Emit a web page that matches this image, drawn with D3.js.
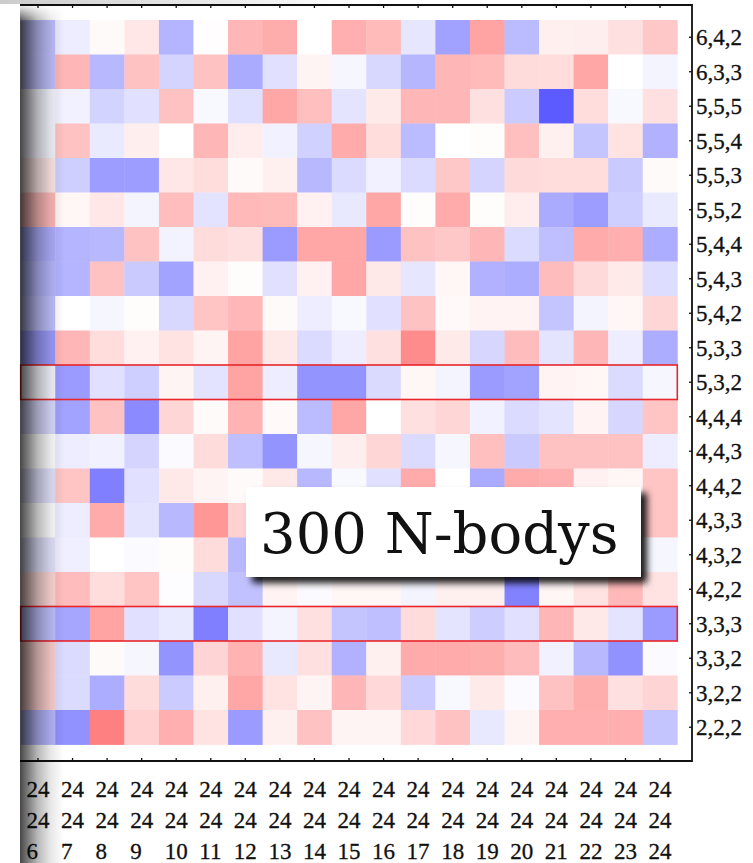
<!DOCTYPE html>
<html>
<head>
<meta charset="utf-8">
<script src="https://cdn.jsdelivr.net/npm/d3@7"></script>
<style>
  body { margin: 0; background: #ffffff; }
  svg { display: block; }
</style>
</head>
<body>
<svg id="chart" width="753" height="863"></svg>
<script>
// Problem shapes (rows) and the third grid dimension of the 24x24xN runs (columns)
const rowLabels = ["6,4,2", "6,3,3", "5,5,5", "5,5,4", "5,5,3", "5,5,2", "5,4,4", "5,4,3",
  "5,4,2", "5,3,3", "5,3,2", "4,4,4", "4,4,3", "4,4,2", "4,3,3", "4,3,2", "4,2,2",
  "3,3,3", "3,3,2", "3,2,2", "2,2,2"];
const gridN = [6, 7, 8, 9, 10, 11, 12, 13, 14, 15, 16, 17, 18, 19, 20, 21, 22, 23, 24];
const gridFixed = ["24", "24"];
const highlightedRows = ["5,3,2", "3,3,3"];
const annotationText = "300 N-bodys";

// Relative deviation per (shape, N): negative = blue, positive = red. null = not shown.
const scores = [
  [-0.35, -0.10, 0.03, 0.16, -0.42, 0.01, 0.48, 0.54, 0.00, 0.52, 0.45, -0.14, -0.53, 0.60, -0.38, 0.10, 0.11, 0.20, 0.36],
  [-0.35, 0.48, -0.40, 0.40, -0.24, 0.40, -0.48, -0.17, 0.07, -0.05, -0.22, -0.41, 0.48, 0.45, 0.23, 0.22, 0.58, 0.00, -0.06],
  [-0.05, -0.08, -0.25, -0.17, 0.40, -0.04, -0.18, 0.58, 0.42, -0.15, 0.14, 0.48, 0.48, 0.20, -0.29, -0.92, 0.22, -0.04, 0.20],
  [-0.05, 0.40, -0.12, 0.11, 0.00, 0.48, 0.12, -0.08, -0.26, 0.55, 0.22, -0.38, 0.00, 0.02, 0.42, 0.10, -0.33, 0.18, -0.44],
  [0.15, -0.27, -0.55, -0.55, 0.16, 0.22, 0.03, 0.10, -0.40, -0.20, -0.08, -0.20, 0.36, -0.24, 0.24, 0.22, 0.22, -0.30, 0.03],
  [0.45, 0.06, 0.16, -0.06, 0.43, -0.16, 0.46, 0.45, 0.09, -0.13, 0.58, 0.02, 0.55, 0.02, 0.12, -0.48, -0.55, -0.27, -0.12],
  [-0.45, -0.42, -0.40, 0.40, -0.07, 0.23, 0.20, -0.56, 0.58, 0.58, -0.56, 0.40, 0.36, 0.48, -0.20, -0.36, 0.55, 0.52, -0.46],
  [-0.40, -0.42, 0.40, -0.30, -0.52, 0.09, 0.02, -0.17, 0.09, 0.58, 0.15, -0.14, 0.06, -0.44, -0.46, 0.44, 0.24, 0.14, -0.19],
  [-0.35, 0.00, -0.05, 0.02, -0.22, 0.38, 0.47, 0.03, -0.10, -0.04, -0.17, 0.40, 0.04, 0.08, 0.08, -0.33, -0.06, 0.06, 0.27],
  [-0.55, 0.48, 0.22, 0.09, 0.18, 0.07, 0.60, 0.15, -0.20, -0.10, 0.20, 0.75, 0.14, -0.23, 0.44, -0.15, 0.48, -0.10, -0.46],
  [-0.05, -0.56, -0.17, -0.27, 0.07, -0.16, 0.60, -0.10, -0.60, -0.60, -0.21, 0.06, -0.06, -0.56, -0.52, 0.08, 0.06, -0.20, -0.05],
  [-0.20, -0.52, 0.40, -0.65, 0.27, 0.03, 0.50, 0.04, -0.38, 0.58, 0.00, 0.20, 0.27, -0.08, -0.20, -0.15, 0.08, -0.23, 0.38],
  [0.00, -0.10, -0.08, -0.24, -0.02, 0.23, -0.36, -0.60, -0.05, 0.11, 0.27, -0.20, -0.05, 0.42, -0.30, 0.40, 0.40, 0.40, -0.10],
  [-0.15, 0.38, -0.72, -0.17, 0.15, 0.07, 0.03, 0.15, -0.40, -0.04, -0.17, 0.55, 0.00, -0.48, 0.55, 0.52, 0.09, 0.06, 0.38],
  [0.00, -0.10, 0.55, -0.15, -0.40, 0.68, 0.30, null, null, null, null, null, null, null, null, null, null, null, 0.38],
  [-0.15, -0.09, 0.00, -0.03, 0.02, 0.23, -0.40, null, null, null, null, null, null, null, null, null, null, null, -0.05],
  [0.25, 0.44, 0.22, 0.38, -0.01, -0.22, -0.35, 0.08, -0.02, 0.06, 0.06, -0.06, 0.10, 0.10, -0.70, 0.06, 0.18, 0.46, 0.18],
  [-0.35, -0.50, 0.60, -0.17, -0.12, -0.72, -0.17, -0.06, 0.20, -0.33, -0.36, 0.23, -0.15, -0.28, -0.17, 0.48, 0.15, -0.15, -0.56],
  [0.30, -0.20, 0.03, -0.05, -0.60, 0.28, 0.50, -0.13, 0.20, -0.44, 0.10, 0.55, 0.55, 0.53, 0.44, -0.08, -0.40, -0.62, -0.02],
  [0.30, -0.20, -0.46, 0.23, -0.29, 0.10, 0.58, 0.18, 0.07, 0.48, 0.25, -0.29, -0.04, 0.14, -0.02, 0.40, 0.53, 0.20, 0.28],
  [-0.40, -0.62, 0.83, 0.30, 0.52, 0.18, -0.56, 0.10, 0.40, 0.07, 0.07, 0.25, 0.40, -0.13, 0.07, 0.52, 0.52, 0.52, -0.33]
];

const svg = d3.select("#chart");
const serif = "'Liberation Serif', 'Times New Roman', serif";

// Layout
const frameLeft = 20, frameRight = 692, frameTop = 5, frameBottom = 761;
const x = d3.scaleBand().domain(gridN).range([20.7, 677.3]);
const y = d3.scaleBand().domain(rowLabels).range([20, 744.5]);
const color = d3.scaleLinear()
  .domain([-1, 0, 1])
  .range(["#4d4dff", "#ffffff", "#ff6666"])
  .clamp(true);

const defs = svg.append("defs");

// Soft horizontal shade along the left edge
const shade = defs.append("linearGradient").attr("id", "edgeShade")
  .attr("x1", 0).attr("x2", 1).attr("y1", 0).attr("y2", 0);
[[0, 0.72], [0.15, 0.55], [0.4, 0.28], [0.7, 0.09], [1, 0]].forEach(([o, a]) =>
  shade.append("stop").attr("offset", o).attr("stop-color", "#000").attr("stop-opacity", a));

const shadeFade = defs.append("linearGradient").attr("id", "shadeFade")
  .attr("gradientUnits", "userSpaceOnUse")
  .attr("x1", 0).attr("x2", 0).attr("y1", 4).attr("y2", 22);
shadeFade.append("stop").attr("offset", 0).attr("stop-color", "#000");
shadeFade.append("stop").attr("offset", 1).attr("stop-color", "#fff");
defs.append("mask").attr("id", "shadeMask")
  .attr("maskUnits", "userSpaceOnUse")
  .attr("x", 0).attr("y", 0).attr("width", 753).attr("height", 863)
  .append("rect").attr("x", 0).attr("y", 0).attr("width", 753).attr("height", 863)
  .attr("fill", "url(#shadeFade)");

// Faint band along the top edge
const topBand = defs.append("linearGradient").attr("id", "topBand")
  .attr("x1", 0).attr("x2", 1).attr("y1", 0).attr("y2", 0);
topBand.append("stop").attr("offset", 0).attr("stop-color", "#000").attr("stop-opacity", 0.2);
topBand.append("stop").attr("offset", 1).attr("stop-color", "#000").attr("stop-opacity", 0);

// Drop shadow for the caption box
defs.append("filter").attr("id", "boxShadow")
  .attr("x", "-10%").attr("y", "-20%").attr("width", "130%").attr("height", "160%")
  .append("feDropShadow")
  .attr("dx", 6).attr("dy", 6).attr("stdDeviation", 3.5)
  .attr("flood-color", "#000").attr("flood-opacity", 0.9);

// Heatmap cells
const cells = [];
rowLabels.forEach((row, i) => {
  gridN.forEach((n, j) => {
    const v = scores[i][j];
    if (v !== null) cells.push({ row, n, v });
  });
});

svg.append("g").attr("class", "cells")
  .selectAll("rect")
  .data(cells)
  .join("rect")
  .attr("x", d => x(d.n))
  .attr("y", d => y(d.row))
  .attr("width", x.bandwidth() + 0.4)
  .attr("height", y.bandwidth() + 0.4)
  .attr("fill", d => color(d.v));

// Highlighted rows
svg.append("g").attr("class", "highlights")
  .selectAll("rect")
  .data(highlightedRows)
  .join("rect")
  .attr("x", x.range()[0])
  .attr("y", d => y(d))
  .attr("width", x.range()[1] - x.range()[0])
  .attr("height", y.bandwidth())
  .attr("fill", "none")
  .attr("stroke", "#e8262b")
  .attr("stroke-width", 1.6);

// Frame (top, right, bottom)
svg.append("path")
  .attr("d", `M${frameLeft},${frameTop}H${frameRight}V${frameBottom}H${frameLeft}`)
  .attr("fill", "none")
  .attr("stroke", "#111")
  .attr("stroke-width", 1.8);

// Top ticks
svg.append("g")
  .attr("transform", `translate(0,${frameTop})`)
  .call(d3.axisTop(x).tickSize(-3).tickFormat(""))
  .call(g => g.select(".domain").remove())
  .call(g => g.selectAll("line").attr("stroke", "#111").attr("stroke-width", 1.3));

// Bottom axis with stacked grid-size labels
const bottom = svg.append("g")
  .attr("transform", `translate(0,${frameBottom})`)
  .call(d3.axisBottom(x).tickSize(-3).tickFormat(""))
  .call(g => g.select(".domain").remove())
  .call(g => g.selectAll("line").attr("stroke", "#111").attr("stroke-width", 1.3));

bottom.selectAll(".tick").each(function (n) {
  const lines = [...gridFixed, String(n)];
  const t = d3.select(this);
  lines.forEach((s, k) => {
    t.append("text")
      .attr("x", -11.5)
      .attr("y", 36 + k * 31)
      .attr("fill", "#111")
      .attr("stroke", "#111")
      .attr("stroke-width", 0.3)
      .attr("font-family", serif)
      .attr("font-size", 23)
      .attr("text-anchor", "start")
      .text(s);
  });
});

// Right axis with shape labels
svg.append("g")
  .attr("transform", `translate(${frameRight},0)`)
  .call(d3.axisRight(y).tickSize(-3).tickPadding(4))
  .call(g => g.select(".domain").remove())
  .call(g => g.selectAll("line").attr("stroke", "#111").attr("stroke-width", 1.3))
  .call(g => g.selectAll("text")
    .attr("fill", "#111")
    .attr("stroke", "#111")
    .attr("stroke-width", 0.3)
    .attr("font-family", serif)
    .attr("font-size", 23)
    .attr("dy", "0.34em"));

// Left edge shade and top band
svg.append("rect")
  .attr("x", 20).attr("y", 4).attr("width", 44).attr("height", 859)
  .attr("fill", "url(#edgeShade)")
  .attr("mask", "url(#shadeMask)");
svg.append("rect")
  .attr("x", 0).attr("y", 0).attr("width", 360).attr("height", 4)
  .attr("fill", "url(#topBand)");

// Caption box
const caption = svg.append("g").attr("class", "caption");
caption.append("rect")
  .attr("x", 246).attr("y", 487).attr("width", 395).attr("height", 90)
  .attr("fill", "#ffffff")
  .attr("filter", "url(#boxShadow)");
caption.append("text")
  .attr("x", 260).attr("y", 553)
  .attr("font-family", "'DejaVu Serif', serif")
  .attr("font-size", 56)
  .attr("fill", "#111")
  .text(annotationText);
</script>
</body>
</html>
